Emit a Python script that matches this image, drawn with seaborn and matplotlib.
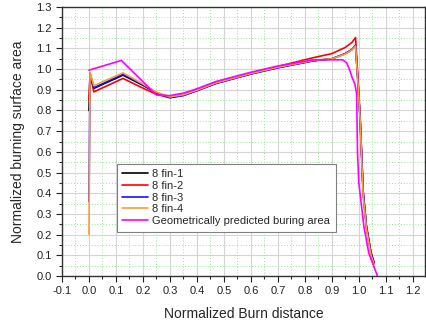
# Normalized burning surface area vs burn distance (8 fin grain)

import numpy as np
import pandas as pd
import matplotlib
matplotlib.use('Agg')
import matplotlib.pyplot as plt
import seaborn as sns
from matplotlib.ticker import MultipleLocator

# Data
fin_x = [0.0, 0.004, 0.018, 0.126, 0.2, 0.25, 0.3, 0.35, 0.4, 0.47, 0.6, 0.7,
         0.83, 0.9, 0.95, 0.975, 0.988, 0.997, 1.005, 1.011, 1.016, 1.028, 1.045, 1.057]
fin1 = [0.80, 0.98, 0.907, 0.971, 0.922, 0.885, 0.864, 0.876, 0.898, 0.932, 0.978, 1.008,
        1.040, 1.050, 1.075, 1.095, 1.116, 0.93, 0.75, 0.56, 0.40, 0.238, 0.11, 0.06]
fin2 = [0.85, 0.975, 0.89, 0.955, 0.908, 0.878, 0.862, 0.874, 0.897, 0.932, 0.98, 1.013,
        1.055, 1.075, 1.105, 1.13, 1.153, 0.95, 0.77, 0.57, 0.41, 0.245, 0.115, 0.065]
fin3 = [0.36, 0.975, 0.91, 0.975, 0.924, 0.886, 0.862, 0.872, 0.895, 0.93, 0.976, 1.006,
        1.040, 1.050, 1.075, 1.095, 1.115, 0.93, 0.76, 0.57, 0.41, 0.24, 0.11, 0.06]
fin4 = [0.20, 0.985, 0.92, 0.982, 0.928, 0.889, 0.866, 0.876, 0.898, 0.933, 0.979, 1.009,
        1.042, 1.050, 1.073, 1.093, 1.112, 0.93, 0.75, 0.55, 0.39, 0.23, 0.10, 0.055]

geo_x = [0.0, 0.12, 0.25, 0.3, 0.35, 0.4, 0.47, 0.6, 0.7, 0.83, 0.94, 0.955, 0.965,
         0.975, 0.985, 0.992, 0.995, 1.0, 1.019, 1.037, 1.069]
geo_y = [0.995, 1.042, 0.875, 0.872, 0.884, 0.905, 0.94, 0.985, 1.015, 1.045, 1.045,
         1.03, 1.0, 0.96, 0.93, 0.88, 0.6, 0.45, 0.238, 0.11, 0.0]

labels = ['8 fin-1', '8 fin-2', '8 fin-3', '8 fin-4', 'Geometrically predicted buring area']
colors = ['black', '#ff0000', '#1010ff', '#ff9a3c', '#ff00ff']

sns.set_style('ticks')
plt.rcParams['font.family'] = ['Liberation Sans', 'DejaVu Sans']

fig = plt.figure(figsize=(4.26, 3.22), dpi=100)
ax = fig.add_axes([0.1455, 0.143, 0.852, 0.835])

series = [(fin_x, fin1), (fin_x, fin2), (fin_x, fin3), (fin_x, fin4), (geo_x, geo_y)]
for (xs, ys), lab, col in zip(series, labels, colors):
    sns.lineplot(x=xs, y=ys, sort=False, estimator=None, ax=ax,
                 color=col, label=lab, linewidth=1.2)

ax.set_xlim(-0.1, 1.245)
ax.set_ylim(0, 1.3)
ax.xaxis.set_major_locator(MultipleLocator(0.1))
ax.xaxis.set_minor_locator(MultipleLocator(0.05))
ax.yaxis.set_major_locator(MultipleLocator(0.1))
ax.yaxis.set_minor_locator(MultipleLocator(0.05))
ax.xaxis.set_major_formatter(plt.FuncFormatter(lambda v, p: f'{v:.1f}'))
ax.yaxis.set_major_formatter(plt.FuncFormatter(lambda v, p: f'{v:.1f}'))

# grid: gray major lines, green dotted minor lines
ax.grid(which='major', color='#d4d4d4', linewidth=0.8, linestyle='-')
ax.grid(which='minor', color='#8ee88e', linewidth=0.7, linestyle=(0, (1, 2)))
ax.set_axisbelow(True)

ax.tick_params(which='major', direction='out', length=4, width=0.8, labelsize=8, colors='#222222')
ax.tick_params(which='minor', direction='out', length=2, width=0.8)
for side in ['left', 'bottom', 'top', 'right']:
    ax.spines[side].set_color('#333333')
    ax.spines[side].set_linewidth(1.0)

ax.set_xlabel('Normalized Burn distance', fontsize=10, labelpad=8)
ax.set_ylabel('Normalized burning surface area', fontsize=10, labelpad=8)

leg = ax.legend(loc='lower left', bbox_to_anchor=(0.151, 0.165), fontsize=8,
                frameon=True, fancybox=False, edgecolor='#808080', framealpha=1,
                handlelength=2.3, handletextpad=0.4, labelspacing=0.15,
                borderpad=0.5, borderaxespad=0)
leg.get_frame().set_linewidth(0.8)

plt.savefig('out.png', dpi=100)
